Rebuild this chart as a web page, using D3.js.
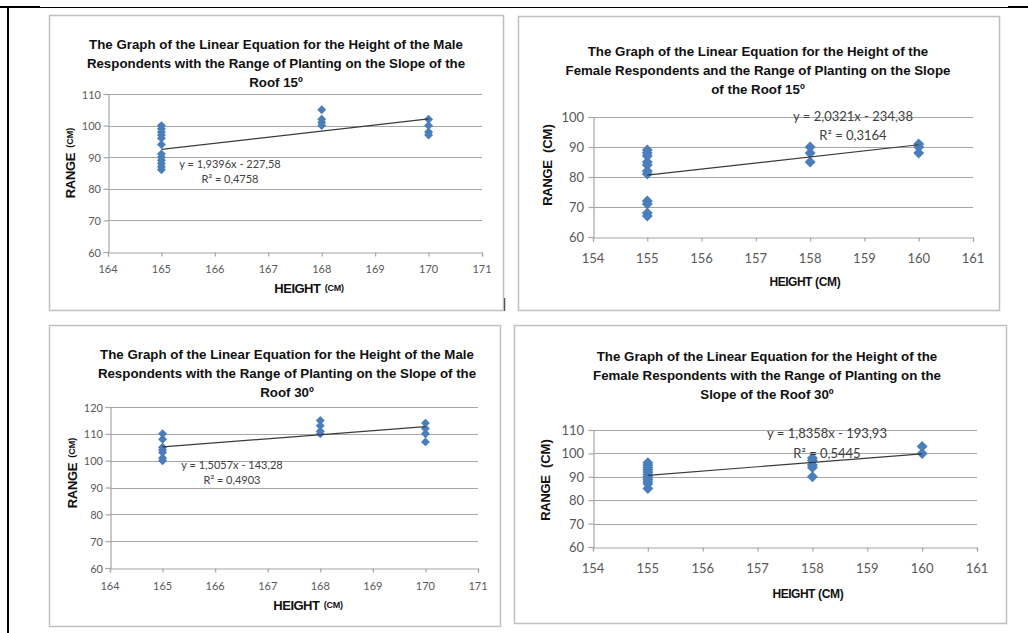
<!DOCTYPE html>
<html lang="en">
<head>
<meta charset="UTF-8">
<title>Linear equation graphs</title>
<script src="https://cdn.jsdelivr.net/npm/d3@7"></script>
<style>
  body { margin: 0; background: #fff; }
  svg { display: block; }
</style>
</head>
<body>
<script>
// ---- data ----
var male15Height = [165,165,165,165,165,165,165,165,165,165,165,165, 168,168,168,168, 170,170,170,170]
var male15Range  = [100,99,98,97,96,94,91,90,89,88,87,86, 105,102,101,100, 102,100,98,97]
var female15Height = [155,155,155,155,155,155,155,155,155,155,155, 158,158,158, 160,160,160]
var female15Range  = [89,88,87,85,84,82,81,72,71,68,67, 90,88,85, 91,90,88]
var male30Height = [165,165,165,165,165,165,165, 168,168,168,168, 170,170,170,170]
var male30Range  = [110,108,105,104,103,101,100, 115,113,111,110, 114,112,110,107]
var female30Height = [155,155,155,155,155,155,155,155,155,155,155, 158,158,158,158,158, 160,160]
var female30Range  = [96,95,94,93,92,91,90,89,88,87,85, 98,97,95,94,90, 103,100]

var slopes = [1.9396, 2.0321, 1.5057, 1.8358]
var intercepts = [-227.58, -234.38, -143.28, -193.93]
var equations = ['y = 1,9396x - 227,58', 'y = 2,0321x - 234,38', 'y = 1,5057x - 143,28', 'y = 1,8358x - 193,93']
var rSquared = ['R\u00B2 = 0,4758', 'R\u00B2 = 0,3164', 'R\u00B2 = 0,4903', 'R\u00B2 = 0,5445']

var maleXTicks = [164,165,166,167,168,169,170,171]
var femaleXTicks = [154,155,156,157,158,159,160,161]
var male15YTicks = [60,70,80,90,100,110]
var female15YTicks = [60,70,80,90,100]
var male30YTicks = [60,70,80,90,100,110,120]
var female30YTicks = [60,70,80,90,100,110]

var titles = [
    ['The Graph of the Linear Equation for the Height of the Male',
     'Respondents with the Range of Planting on the Slope of the',
     'Roof 15\u00BA'],
    ['The Graph of the Linear Equation for the Height of the',
     'Female Respondents and the Range of Planting on the Slope',
     'of the Roof 15\u00BA'],
    ['The Graph of the Linear Equation for the Height of the Male',
     'Respondents with the Range of Planting on the Slope of the',
     'Roof 30\u00BA'],
    ['The Graph of the Linear Equation for the Height of the',
     'Female Respondents with the Range of Planting on the',
     'Slope of the Roof 30\u00BA']
]

// ---- layout per panel ----
var panels = [
    { box: [49, 15, 503, 310], plot: [108, 482, 94, 252], titleX: 276, titleY: [44, 63, 82],
      xs: male15Height, ys: male15Range, xTicks: maleXTicks, yTicks: male15YTicks,
      tickSize: 11, tickY: 268, xTitle: [309, 288], yTitle: [70, 163], eq: [230, 163, 178], eqSize: 11,
      small: true, marker: 40 },
    { box: [518, 16, 999, 310], plot: [593, 973, 117, 237], titleX: 758, titleY: [51, 70, 89],
      xs: female15Height, ys: female15Range, xTicks: femaleXTicks, yTicks: female15YTicks,
      tickSize: 13, tickY: 258, xTitle: [805, 282], yTitle: [547, 165], eq: [853, 116, 135], eqSize: 13,
      small: false, marker: 60 },
    { box: [49, 325, 500, 626], plot: [110, 478, 407, 568], titleX: 287, titleY: [354, 373, 392],
      xs: male30Height, ys: male30Range, xTicks: maleXTicks, yTicks: male30YTicks,
      tickSize: 11, tickY: 585, xTitle: [308, 605], yTitle: [72, 473], eq: [232, 464, 479], eqSize: 11,
      small: true, marker: 40 },
    { box: [514, 325, 1006, 623], plot: [593, 977, 430, 547], titleX: 767, titleY: [356, 375, 394],
      xs: female30Height, ys: female30Range, xTicks: femaleXTicks, yTicks: female30YTicks,
      tickSize: 13, tickY: 568, xTitle: [808, 594], yTitle: [545, 480], eq: [827, 433, 453], eqSize: 13,
      small: false, marker: 60 }
]

var width = 1028
    height = 633
    gridColor = '#a6a6a6'
    tickColor = '#595959'
    pointColor = '#4a7ebb'

var svg = d3.select('body')
    .append('svg')
    .attr('width', width)
    .attr('height', height)

// outer page frame
svg.append('line').attr('x1', 8).attr('x2', 8).attr('y1', 6).attr('y2', height)
    .attr('stroke', '#000').attr('stroke-width', 2)
svg.append('line').attr('x1', 0).attr('x2', width).attr('y1', 7.5).attr('y2', 7.5)
    .attr('stroke', '#000').attr('stroke-width', 1)
svg.append('line').attr('x1', 0).attr('x2', 40).attr('y1', 7).attr('y2', 7)
    .attr('stroke', '#000').attr('stroke-width', 2)
svg.append('line').attr('x1', 1008).attr('x2', width).attr('y1', 7).attr('y2', 7)
    .attr('stroke', '#000').attr('stroke-width', 2)
svg.append('line').attr('x1', 504.5).attr('x2', 504.5).attr('y1', 298).attr('y2', 311)
    .attr('stroke', '#333').attr('stroke-width', 1.5)

panels.forEach(function (p, i) {
    var g = svg.append('g')

    g.append('rect')
        .attr('x', p.box[0] + 0.5).attr('y', p.box[1] + 0.5)
        .attr('width', p.box[2] - p.box[0]).attr('height', p.box[3] - p.box[1])
        .attr('fill', '#fff').attr('stroke', '#bfbfbf').attr('stroke-width', 1.5)

    // title
    titles[i].forEach(function (line, k) {
        g.append('text')
            .attr('x', p.titleX).attr('y', p.titleY[k])
            .attr('text-anchor', 'middle').attr('dominant-baseline', 'central')
            .style('font-family', 'Liberation Sans, Arial, sans-serif')
            .style('font-weight', 'bold').style('font-size', '13.3px')
            .attr('fill', '#111')
            .text(line)
    })

    var xScale = d3.scaleLinear()
        .domain(d3.extent(p.xTicks))
        .range([p.plot[0], p.plot[1]])
    var yScale = d3.scaleLinear()
        .domain(d3.extent(p.yTicks))
        .range([p.plot[3], p.plot[2]])

    // gridlines
    g.selectAll('.grid')
        .data(p.yTicks.slice(1))
        .enter().append('line')
        .attr('x1', p.plot[0]).attr('x2', p.plot[1])
        .attr('y1', function (d) { return Math.round(yScale(d)) + 0.5 })
        .attr('y2', function (d) { return Math.round(yScale(d)) + 0.5 })
        .attr('stroke', gridColor).attr('stroke-width', 1.2)

    // axes
    g.append('g')
        .attr('transform', 'translate(0,' + (Math.round(p.plot[3]) + 0.5) + ')')
        .call(d3.axisBottom(xScale).tickValues(p.xTicks).tickSize(4).tickFormat(''))
    g.append('g')
        .attr('transform', 'translate(' + (Math.round(p.plot[0]) + 0.5) + ',0)')
        .call(d3.axisLeft(yScale).tickValues(p.yTicks).tickSize(5).tickFormat(''))
    g.selectAll('.domain, .tick line').attr('stroke', gridColor).attr('stroke-width', 1.2)

    // tick labels
    g.selectAll('.xlab')
        .data(p.xTicks)
        .enter().append('text')
        .attr('x', function (d) { return xScale(d) })
        .attr('y', p.tickY)
        .attr('text-anchor', 'middle').attr('dominant-baseline', 'central')
        .style('font-family', 'Lato, Liberation Sans, sans-serif')
        .style('font-size', p.tickSize + 'px')
        .attr('fill', tickColor)
        .text(function (d) { return d })
    g.selectAll('.ylab')
        .data(p.yTicks)
        .enter().append('text')
        .attr('x', p.plot[0] - (p.small ? 7 : 9))
        .attr('y', function (d) { return yScale(d) })
        .attr('text-anchor', 'end').attr('dominant-baseline', 'central')
        .style('font-family', 'Lato, Liberation Sans, sans-serif')
        .style('font-size', p.tickSize + 'px')
        .attr('fill', tickColor)
        .text(function (d) { return d })

    // axis titles
    var xt = g.append('text')
        .attr('x', p.xTitle[0]).attr('y', p.xTitle[1])
        .attr('text-anchor', 'middle').attr('dominant-baseline', 'central')
        .style('font-family', 'Liberation Sans, Arial, sans-serif')
        .style('font-weight', 'bold').attr('fill', '#111')
    xt.append('tspan').style('font-size', p.small ? '13px' : '12px').attr('letter-spacing', '-0.5').text('HEIGHT')
    xt.append('tspan').style('font-size', p.small ? '9px' : '12px').attr('letter-spacing', '-0.3')
        .text(p.small ? '\u00A0 (CM)' : ' (CM)')

    var yt = g.append('text')
        .attr('transform', 'translate(' + p.yTitle[0] + ',' + p.yTitle[1] + ') rotate(-90)')
        .attr('text-anchor', 'middle').attr('dominant-baseline', 'central')
        .style('font-family', 'Liberation Sans, Arial, sans-serif')
        .style('font-weight', 'bold').attr('fill', '#111')
    yt.append('tspan').style('font-size', '13px').attr('letter-spacing', '-0.3').text('RANGE')
    yt.append('tspan').style('font-size', p.small ? '9px' : '13px')
        .text('\u00A0 (CM)')

    // points
    var pts = p.xs.map(function (x, k) { return [x, p.ys[k]] })
    g.selectAll('.pt')
        .data(pts)
        .enter().append('path')
        .attr('d', d3.symbol().type(d3.symbolSquare).size(p.marker))
        .attr('transform', function (d) {
            return 'translate(' + xScale(d[0]) + ',' + yScale(d[1]) + ') rotate(45)'
        })
        .attr('fill', pointColor)

    // trend line
    var x0 = d3.min(p.xs), x1 = d3.max(p.xs)
    g.append('line')
        .attr('x1', xScale(x0)).attr('y1', yScale(slopes[i] * x0 + intercepts[i]))
        .attr('x2', xScale(x1)).attr('y2', yScale(slopes[i] * x1 + intercepts[i]))
        .attr('stroke', '#3a3a3a').attr('stroke-width', 1.2)

    // equation label
    ;[equations[i], rSquared[i]].forEach(function (t, k) {
        g.append('text')
            .attr('x', p.eq[0]).attr('y', p.eq[k + 1])
            .attr('text-anchor', 'middle').attr('dominant-baseline', 'central')
            .style('font-family', 'Lato, Liberation Sans, sans-serif')
            .style('font-size', p.eqSize + 'px')
            .attr('fill', '#404040')
            .text(t)
    })
})
</script>
</body>
</html>
